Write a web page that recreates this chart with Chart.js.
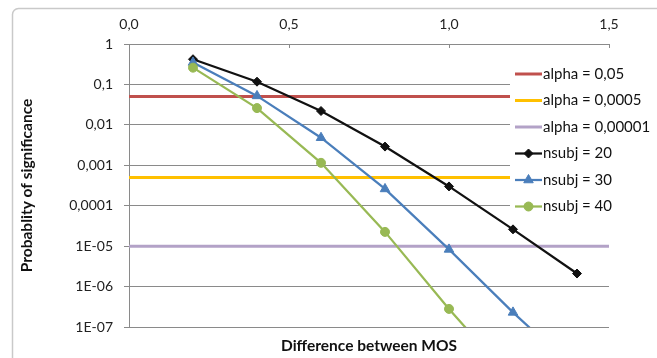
<!DOCTYPE html>
<html>
<head>
<meta charset="utf-8">
<script src="https://cdn.jsdelivr.net/npm/chart.js@4/dist/chart.umd.min.js"></script>
<style>
  html, body { margin: 0; padding: 0; background: #ffffff; }
  #wrap { width: 657px; height: 358px; }
</style>
</head>
<body>
<div id="wrap"><canvas id="chart" width="657" height="358"></canvas></div>
<script>
// x positions (difference between MOS)
const xValues = [0.2, 0.4, 0.6, 0.8, 1.0, 1.2, 1.4];
// probability of significance
const nsubj20 = [0.42, 0.117, 0.022, 0.0029, 0.0003, 0.000026, 0.0000021];
const nsubj30 = [0.35, 0.052, 0.0048, 0.00026, 0.0000083, 0.00000023, 0.000000008];
const nsubj40 = [0.26, 0.026, 0.00115, 0.0000225, 0.00000028, 0.0000000046, null];
// significance levels (horizontal lines)
const alphaLevels = [0.05, 0.0005, 0.00001];
const alphaLabels = ["alpha = 0,05", "alpha = 0,0005", "alpha = 0,00001"];
const seriesLabels = ["nsubj = 20", "nsubj = 30", "nsubj = 40"];
// axis ticks
const xTickValues = [0, 0.5, 1.0, 1.5];
const xTickLabels = ["0,0", "0,5", "1,0", "1,5"];
const yTickValues = [1e-7, 1e-6, 1e-5, 1e-4, 1e-3, 1e-2, 1e-1, 1];
const yTickLabels = ["1E-07", "1E-06", "1E-05", "0,0001", "0,001", "0,01", "0,1", "1"];

const FONT = "Lato, 'DejaVu Sans', sans-serif";
const GRID = "#8a8a8a";

const alphaColors = ["#C0504D", "#FFC000", "#B3A2C7"];
const seriesColors = ["#111111", "#4A7EBB", "#98B954"];
const seriesMarkers = [
  { pointStyle: "rectRot", radius: 4.5 },
  { pointStyle: "triangle", radius: 5.5 },
  { pointStyle: "circle", radius: 4.5 },
];

const toPoints = (ys) => xValues.map((x, i) => ({ x: x, y: ys[i] }));

const datasets = [];
alphaLevels.forEach((a, i) => {
  datasets.push({
    label: alphaLabels[i],
    data: [{ x: xTickValues[0], y: a }, { x: xTickValues[xTickValues.length - 1], y: a }],
    borderColor: alphaColors[i],
    backgroundColor: alphaColors[i],
    borderWidth: 3,
    pointRadius: 0,
    order: 6 - i,
  });
});
[nsubj20, nsubj30, nsubj40].forEach((ys, i) => {
  datasets.push({
    label: seriesLabels[i],
    data: toPoints(ys),
    borderColor: seriesColors[i],
    backgroundColor: seriesColors[i],
    borderWidth: 2.25,
    pointStyle: seriesMarkers[i].pointStyle,
    pointRadius: seriesMarkers[i].radius,
    pointBorderWidth: 1,
    order: 3 - i,
  });
});

// frame, inward x ticks and a legend drawn over the plot like Excel does
const excelLook = {
  id: "excelLook",
  beforeDraw(chart) {
    const ctx = chart.ctx;
    ctx.save();
    ctx.fillStyle = "#ffffff";
    ctx.fillRect(0, 0, chart.width, chart.height);
    ctx.strokeStyle = "#c9c9c9";
    ctx.lineWidth = 1.5;
    ctx.beginPath();
    ctx.roundRect(12.5, 8.5, chart.width + 20, chart.height + 20, 6);
    ctx.stroke();
    ctx.restore();
  },
  afterDraw(chart) {
    const ctx = chart.ctx;
    const xs = chart.scales.x;
    const area = chart.chartArea;
    ctx.save();
    ctx.strokeStyle = GRID;
    ctx.lineWidth = 1;
    xTickValues.forEach((v) => {
      const px = Math.round(xs.getPixelForValue(v)) + 0.5;
      ctx.beginPath();
      ctx.moveTo(px, area.top);
      ctx.lineTo(px, area.top + 4);
      ctx.stroke();
    });

    // legend box
    const boxX = 510, boxY = 60, rowH = 26.5;
    ctx.fillStyle = "#ffffff";
    ctx.fillRect(boxX, boxY, chart.width - boxX, rowH * 6 + 2);
    chart.data.datasets.forEach((ds, i) => {
      const y = boxY + 14 + i * rowH;
      ctx.strokeStyle = ds.borderColor;
      ctx.lineWidth = ds.borderWidth;
      ctx.beginPath();
      ctx.moveTo(boxX + 5, y);
      ctx.lineTo(boxX + 32, y);
      ctx.stroke();
      if (ds.pointRadius) {
        ctx.fillStyle = ds.backgroundColor;
        ctx.lineWidth = 1;
        Chart.helpers.drawPoint(ctx, { pointStyle: ds.pointStyle, radius: ds.pointRadius, rotation: 0, borderWidth: 1 }, boxX + 18.5, y);
      }
      ctx.fillStyle = "#111111";
      ctx.font = "15px " + FONT;
      ctx.textBaseline = "middle";
      ctx.textAlign = "left";
      ctx.fillText(ds.label, boxX + 33, y);
    });
    ctx.restore();
  },
};

new Chart(document.getElementById("chart"), {
  type: "line",
  data: { datasets: datasets },
  options: {
    responsive: false,
    animation: false,
    layout: { padding: { left: 0, right: 48, top: 0, bottom: 0 } },
    plugins: { legend: { display: false }, tooltip: { enabled: false } },
    scales: {
      x: {
        type: "linear",
        position: "top",
        min: 0,
        max: 1.5,
        afterBuildTicks: (scale) => { scale.ticks = xTickValues.map((v) => ({ value: v })); },
        afterFit: (scale) => { scale.height = 44; },
        grid: { drawOnChartArea: false, drawTicks: false, color: GRID },
        border: { color: GRID },
        ticks: {
          padding: 11,
          color: "#222222",
          font: { family: FONT, size: 14 },
          callback: (v) => xTickLabels[xTickValues.indexOf(v)],
        },
      },
      x2: {
        type: "linear",
        position: "bottom",
        afterFit: (scale) => { scale.height = 31; },
        grid: { display: false },
        border: { display: false },
        ticks: { display: false },
        title: {
          display: true,
          text: "Difference between MOS",
          color: "#111111",
          font: { family: FONT, size: 15.5, weight: "bold" },
          padding: { top: 0, bottom: 3 },
        },
      },
      y: {
        type: "logarithmic",
        min: 1e-7,
        max: 1,
        afterBuildTicks: (scale) => { scale.ticks = yTickValues.map((v) => ({ value: v })); },
        afterFit: (scale) => { scale.width = 129; },
        grid: { color: GRID, tickLength: 5 },
        border: { color: GRID },
        ticks: {
          padding: 11,
          color: "#222222",
          font: { family: FONT, size: 14 },
          callback: (v) => yTickLabels[yTickValues.indexOf(v)],
        },
        title: {
          display: true,
          text: "Probablity of significance",
          color: "#111111",
          font: { family: FONT, size: 15.5, weight: "bold" },
          padding: { top: 18, bottom: 0 },
        },
      },
    },
  },
  plugins: [excelLook],
});
</script>
</body>
</html>
